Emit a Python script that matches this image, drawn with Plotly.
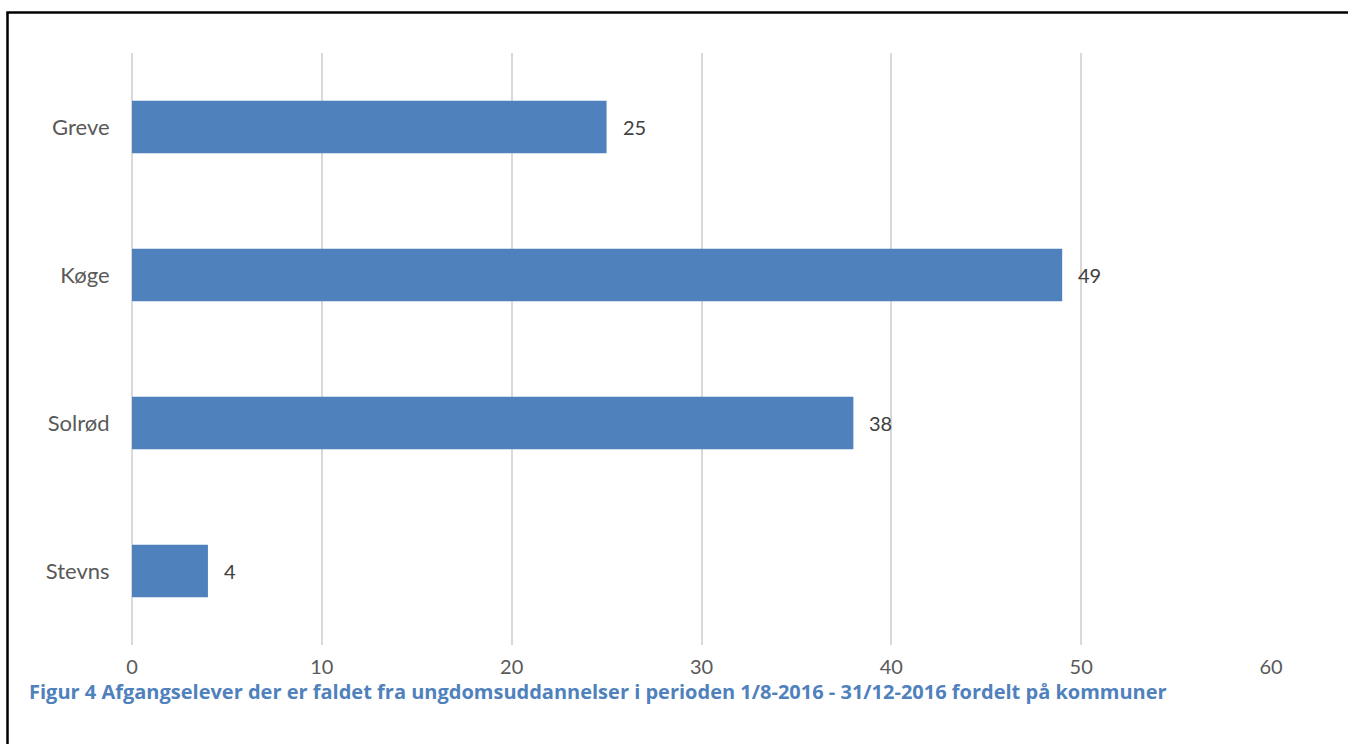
import plotly.graph_objects as go

categories = ["Greve", "Køge", "Solrød", "Stevns"]
values = [25, 49, 38, 4]
x_ticks = [0, 10, 20, 30, 40, 50, 60]
caption = "Figur 4 Afgangselever der er faldet fra ungdomsuddannelser i perioden 1/8-2016 - 31/12-2016 fordelt på kommuner"

W, H = 1348, 744
L, R, T, B = 132, 77, 53, 99
pw, ph = W - L - R, H - T - B

def px_x(px):
    return (px - L) / pw

def px_y(py):
    return (H - B - py) / ph

fig = go.Figure()
fig.add_trace(go.Bar(
    x=values, y=categories, orientation="h",
    marker=dict(color="#4F81BD", line=dict(width=0)),
    width=0.355, hoverinfo="skip",
))

annotations = [
    dict(x=v, y=c, xref="x", yref="y", text=str(v), showarrow=False,
         xanchor="left", yanchor="middle", xshift=14,
         font=dict(family="Lato", size=20, color="#404040"))
    for c, v in zip(categories, values)
]
annotations.append(dict(
    x=px_x(27), y=px_y(691), xref="paper", yref="paper", text="<b>" + caption + "</b>",
    showarrow=False, xanchor="left", yanchor="middle",
    font=dict(family="Open Sans", size=20, color="#4F81BD"),
))

shapes = [
    dict(type="line", xref="paper", yref="paper", x0=px_x(7.5), x1=px_x(7.5),
         y0=px_y(12.5), y1=px_y(800), line=dict(color="black", width=2.5)),
    dict(type="line", xref="paper", yref="paper", x0=px_x(6.3), x1=px_x(1400),
         y0=px_y(12.5), y1=px_y(12.5), line=dict(color="black", width=2.5)),
]

fig.update_layout(
    width=W, height=H,
    margin=dict(l=L, r=R, t=T, b=B, pad=0),
    paper_bgcolor="white", plot_bgcolor="white",
    showlegend=False,
    xaxis=dict(range=[0, 60], tickvals=x_ticks, showgrid=True, gridcolor="#D9D9D9",
               gridwidth=1.5, zeroline=True, zerolinecolor="#D9D9D9", zerolinewidth=1.5,
               showline=False, ticks="outside", ticklen=4, tickcolor="rgba(0,0,0,0)",
               tickfont=dict(family="Lato", size=20, color="#595959"), fixedrange=True),
    yaxis=dict(categoryorder="array", categoryarray=categories[::-1],
               range=[-0.5, 3.5], showgrid=False, zeroline=False, showline=False,
               ticks="outside", ticklen=17, tickcolor="rgba(0,0,0,0)",
               tickfont=dict(family="Lato", size=22, color="#595959"), fixedrange=True),
    annotations=annotations,
    shapes=shapes,
)

fig.write_html("out.html", config={"displayModeBar": False},
               post_script="document.body.style.margin='0';document.body.style.overflow='hidden';")
